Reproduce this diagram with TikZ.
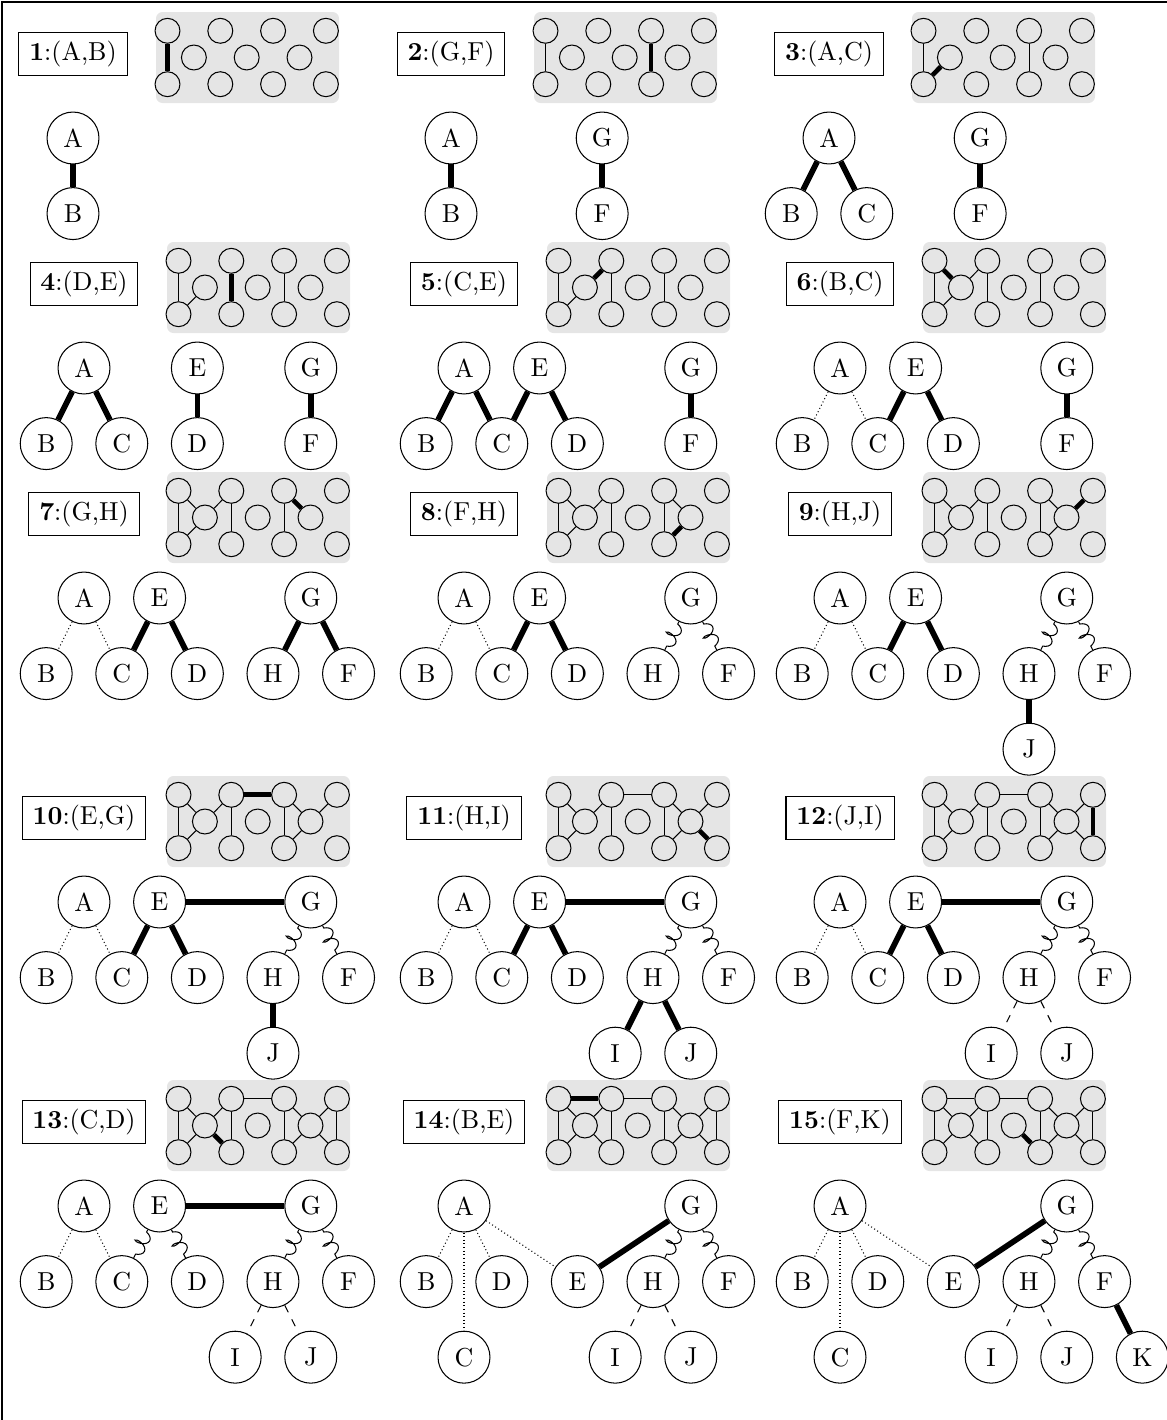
\documentclass[tikz,border=0pt]{standalone}
\usetikzlibrary{decorations.pathmorphing}

\tikzset{
  vtx/.style={circle, draw, minimum size=20pt, inner sep=0pt},
  spot/.style={circle, draw, minimum size=9.6pt, inner sep=0pt},
  stepbox/.style={draw, inner xsep=4pt, inner ysep=3.4pt},
  thickedge/.style={line width=2.2pt},
  dotedge/.style={densely dotted},
  coiledge/.style={decorate, decoration={coil, amplitude=2.6pt, segment length=4.6pt, pre length=1pt, post length=1pt}},
  dashedge/.style={dashed},
  treegrid/.style={shift={(0,84)}, x=14.55pt, y=-29.1pt}
}

% order in which the edges enter the small graph
\newcommand\edgeorder{A/B,G/F,A/C,D/E,C/E,B/C,G/H,F/H,H/J,E/G,H/I,J/I,C/D,B/E,F/K}

% small graph: edges before step #1 thin, edge #1 thick
\newcommand\smallgraph[1]{%
  \fill[gray!20, rounded corners=2.5pt] (83,-42) rectangle (266,49);
  \foreach \v/\i/\j in {B/0/0,A/0/2,C/1/1,E/2/0,D/2/2,K/3/1,G/4/0,F/4/2,H/5/1,J/6/0,I/6/2}
    \node[spot] (g\v) at (94.5+26.4*\i,-23.2+26.7*\j) {};
  \foreach \u/\v [count=\k] in \edgeorder {
    \ifnum\k<#1 \draw (g\u) -- (g\v);\fi
    \ifnum\k=#1 \draw[line width=1.8pt] (g\u) -- (g\v);\fi
  }%
}

% tree vertices: name/column/level
\newcommand\vertices[1]{\foreach \n/\i/\j in {#1} \node[vtx] (\n) at (\i,\j) {\n};}

\begin{document}
\begin{tikzpicture}[x=0.385pt, y=-0.385pt]
  \useasboundingbox (0,0) rectangle (1167,1420);
  \draw (2,1420) -- (2,2) -- (1167,2);

  % row 1
  \begin{scope}[shift={(73,54)}, name prefix=p1-]
    \node[stepbox] (lbl) at (0,0) {\textbf{1}:(A,B)};
    \smallgraph{1}
    \begin{scope}[treegrid]
      \vertices{A/0/0,B/0/1}
      \draw[thickedge] (A) -- (B);
    \end{scope}
  \end{scope}

  \begin{scope}[shift={(451,54)}, name prefix=p2-]
    \node[stepbox] (lbl) at (0,0) {\textbf{2}:(G,F)};
    \smallgraph{2}
    \begin{scope}[treegrid]
      \vertices{A/0/0,B/0/1,G/4/0,F/4/1}
      \foreach \u/\v in {A/B,G/F} \draw[thickedge] (\u) -- (\v);
    \end{scope}
  \end{scope}

  \begin{scope}[shift={(829,54)}, name prefix=p3-]
    \node[stepbox] (lbl) at (0,0) {\textbf{3}:(A,C)};
    \smallgraph{3}
    \begin{scope}[treegrid]
      \vertices{A/0/0,B/-1/1,C/1/1,G/4/0,F/4/1}
      \foreach \u/\v in {A/B,A/C,G/F} \draw[thickedge] (\u) -- (\v);
    \end{scope}
  \end{scope}

  % row 2
  \begin{scope}[shift={(84,284)}, name prefix=p4-]
    \node[stepbox] (lbl) at (0,0) {\textbf{4}:(D,E)};
    \smallgraph{4}
    \begin{scope}[treegrid]
      \vertices{A/0/0,B/-1/1,C/1/1,E/3/0,D/3/1,G/6/0,F/6/1}
      \foreach \u/\v in {A/B,A/C,E/D,G/F} \draw[thickedge] (\u) -- (\v);
    \end{scope}
  \end{scope}

  \begin{scope}[shift={(464,284)}, name prefix=p5-]
    \node[stepbox] (lbl) at (0,0) {\textbf{5}:(C,E)};
    \smallgraph{5}
    \begin{scope}[treegrid]
      \vertices{A/0/0,B/-1/1,C/1/1,E/2/0,D/3/1,G/6/0,F/6/1}
      \foreach \u/\v in {A/B,A/C,E/C,E/D,G/F} \draw[thickedge] (\u) -- (\v);
    \end{scope}
  \end{scope}

  \begin{scope}[shift={(840,284)}, name prefix=p6-]
    \node[stepbox] (lbl) at (0,0) {\textbf{6}:(B,C)};
    \smallgraph{6}
    \begin{scope}[treegrid]
      \vertices{A/0/0,B/-1/1,C/1/1,E/2/0,D/3/1,G/6/0,F/6/1}
      \foreach \u/\v in {A/B,A/C} \draw[dotedge] (\u) -- (\v);
      \foreach \u/\v in {E/C,E/D,G/F} \draw[thickedge] (\u) -- (\v);
    \end{scope}
  \end{scope}

  % row 3
  \begin{scope}[shift={(84,514)}, name prefix=p7-]
    \node[stepbox] (lbl) at (0,0) {\textbf{7}:(G,H)};
    \smallgraph{7}
    \begin{scope}[treegrid]
      \vertices{A/0/0,B/-1/1,C/1/1,E/2/0,D/3/1,G/6/0,H/5/1,F/7/1}
      \foreach \u/\v in {A/B,A/C} \draw[dotedge] (\u) -- (\v);
      \foreach \u/\v in {E/C,E/D,G/H,G/F} \draw[thickedge] (\u) -- (\v);
    \end{scope}
  \end{scope}

  \begin{scope}[shift={(464,514)}, name prefix=p8-]
    \node[stepbox] (lbl) at (0,0) {\textbf{8}:(F,H)};
    \smallgraph{8}
    \begin{scope}[treegrid]
      \vertices{A/0/0,B/-1/1,C/1/1,E/2/0,D/3/1,G/6/0,H/5/1,F/7/1}
      \foreach \u/\v in {A/B,A/C} \draw[dotedge] (\u) -- (\v);
      \foreach \u/\v in {E/C,E/D} \draw[thickedge] (\u) -- (\v);
      \foreach \u/\v in {G/H,G/F} \draw[coiledge] (\u) -- (\v);
    \end{scope}
  \end{scope}

  \begin{scope}[shift={(840,514)}, name prefix=p9-]
    \node[stepbox] (lbl) at (0,0) {\textbf{9}:(H,J)};
    \smallgraph{9}
    \begin{scope}[treegrid]
      \vertices{A/0/0,B/-1/1,C/1/1,E/2/0,D/3/1,G/6/0,H/5/1,F/7/1,J/5/2}
      \foreach \u/\v in {A/B,A/C} \draw[dotedge] (\u) -- (\v);
      \foreach \u/\v in {E/C,E/D,H/J} \draw[thickedge] (\u) -- (\v);
      \foreach \u/\v in {G/H,G/F} \draw[coiledge] (\u) -- (\v);
    \end{scope}
  \end{scope}

  % row 4
  \begin{scope}[shift={(84,818)}, name prefix=p10-]
    \node[stepbox] (lbl) at (0,0) {\textbf{10}:(E,G)};
    \smallgraph{10}
    \begin{scope}[treegrid]
      \vertices{A/0/0,B/-1/1,C/1/1,E/2/0,D/3/1,G/6/0,H/5/1,F/7/1,J/5/2}
      \foreach \u/\v in {A/B,A/C} \draw[dotedge] (\u) -- (\v);
      \foreach \u/\v in {E/C,E/D,H/J,E/G} \draw[thickedge] (\u) -- (\v);
      \foreach \u/\v in {G/H,G/F} \draw[coiledge] (\u) -- (\v);
    \end{scope}
  \end{scope}

  \begin{scope}[shift={(464,818)}, name prefix=p11-]
    \node[stepbox] (lbl) at (0,0) {\textbf{11}:(H,I)};
    \smallgraph{11}
    \begin{scope}[treegrid]
      \vertices{A/0/0,B/-1/1,C/1/1,E/2/0,D/3/1,G/6/0,H/5/1,F/7/1,I/4/2,J/6/2}
      \foreach \u/\v in {A/B,A/C} \draw[dotedge] (\u) -- (\v);
      \foreach \u/\v in {E/C,E/D,E/G,H/I,H/J} \draw[thickedge] (\u) -- (\v);
      \foreach \u/\v in {G/H,G/F} \draw[coiledge] (\u) -- (\v);
    \end{scope}
  \end{scope}

  \begin{scope}[shift={(840,818)}, name prefix=p12-]
    \node[stepbox] (lbl) at (0,0) {\textbf{12}:(J,I)};
    \smallgraph{12}
    \begin{scope}[treegrid]
      \vertices{A/0/0,B/-1/1,C/1/1,E/2/0,D/3/1,G/6/0,H/5/1,F/7/1,I/4/2,J/6/2}
      \foreach \u/\v in {A/B,A/C} \draw[dotedge] (\u) -- (\v);
      \foreach \u/\v in {E/C,E/D,E/G} \draw[thickedge] (\u) -- (\v);
      \foreach \u/\v in {G/H,G/F} \draw[coiledge] (\u) -- (\v);
      \foreach \u/\v in {H/I,H/J} \draw[dashedge] (\u) -- (\v);
    \end{scope}
  \end{scope}

  % row 5
  \begin{scope}[shift={(84,1122)}, name prefix=p13-]
    \node[stepbox] (lbl) at (0,0) {\textbf{13}:(C,D)};
    \smallgraph{13}
    \begin{scope}[treegrid]
      \vertices{A/0/0,B/-1/1,C/1/1,E/2/0,D/3/1,G/6/0,H/5/1,F/7/1,I/4/2,J/6/2}
      \foreach \u/\v in {A/B,A/C} \draw[dotedge] (\u) -- (\v);
      \draw[thickedge] (E) -- (G);
      \foreach \u/\v in {E/C,E/D,G/H,G/F} \draw[coiledge] (\u) -- (\v);
      \foreach \u/\v in {H/I,H/J} \draw[dashedge] (\u) -- (\v);
    \end{scope}
  \end{scope}

  \begin{scope}[shift={(464,1122)}, name prefix=p14-]
    \node[stepbox] (lbl) at (0,0) {\textbf{14}:(B,E)};
    \smallgraph{14}
    \begin{scope}[treegrid]
      \vertices{A/0/0,B/-1/1,D/1/1,C/0/2,E/3/1,G/6/0,H/5/1,F/7/1,I/4/2,J/6/2}
      \foreach \u/\v in {A/B,A/C,A/D,A/E} \draw[dotedge] (\u) -- (\v);
      \draw[thickedge] (G) -- (E);
      \foreach \u/\v in {G/H,G/F} \draw[coiledge] (\u) -- (\v);
      \foreach \u/\v in {H/I,H/J} \draw[dashedge] (\u) -- (\v);
    \end{scope}
  \end{scope}

  \begin{scope}[shift={(840,1122)}, name prefix=p15-]
    \node[stepbox] (lbl) at (0,0) {\textbf{15}:(F,K)};
    \smallgraph{15}
    \begin{scope}[treegrid]
      \vertices{A/0/0,B/-1/1,D/1/1,C/0/2,E/3/1,G/6/0,H/5/1,F/7/1,I/4/2,J/6/2,K/8/2}
      \foreach \u/\v in {A/B,A/C,A/D,A/E} \draw[dotedge] (\u) -- (\v);
      \foreach \u/\v in {G/E,F/K} \draw[thickedge] (\u) -- (\v);
      \foreach \u/\v in {G/H,G/F} \draw[coiledge] (\u) -- (\v);
      \foreach \u/\v in {H/I,H/J} \draw[dashedge] (\u) -- (\v);
    \end{scope}
  \end{scope}
\end{tikzpicture}
\end{document}
